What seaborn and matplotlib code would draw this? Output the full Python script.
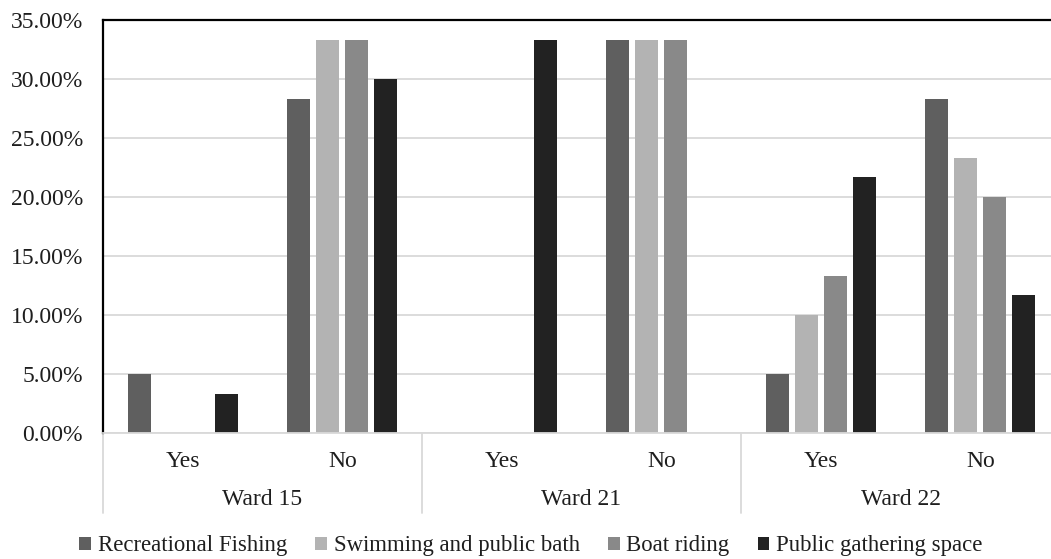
import matplotlib
matplotlib.use("Agg")
import matplotlib.pyplot as plt
import matplotlib.transforms as mtransforms
from matplotlib.patches import Patch
import seaborn as sns
import pandas as pd

# Survey shares (% of respondents) per ward and answer
wards = ["Ward 15", "Ward 21", "Ward 22"]
answers = ["Yes", "No"]
activities = ["Recreational Fishing", "Swimming and public bath",
              "Boat riding", "Public gathering space"]
recreational_fishing = [5.00, 28.33, 0.00, 33.33, 5.00, 28.33]
swimming_public_bath = [0.00, 33.33, 0.00, 33.33, 10.00, 23.33]
boat_riding = [0.00, 33.33, 0.00, 33.33, 13.33, 20.00]
public_gathering = [3.33, 30.00, 33.33, 0.00, 21.67, 11.67]
y_ticks = [0, 5, 10, 15, 20, 25, 30, 35]

palette = ["#5f5f5f", "#b3b3b3", "#898989", "#222222"]
FS = 17

series = [recreational_fishing, swimming_public_bath, boat_riding, public_gathering]
keys = [f"{w}|{a}" for w in wards for a in answers]
rows = []
for act, vals in zip(activities, series):
    for k, v in zip(keys, vals):
        rows.append({"group": k, "activity": act, "share": v})
df = pd.DataFrame(rows)

sns.set_theme(style="white")
plt.rcParams["font.family"] = ["Liberation Serif", "DejaVu Serif"]

fig = plt.figure(figsize=(10.51, 5.59), dpi=100)
ax = fig.add_axes([0.098, 0.2254, 0.9106, 0.7388])

sns.barplot(data=df, x="group", y="share", hue="activity", order=keys,
            hue_order=activities, palette=palette, width=0.725, gap=0.21,
            saturation=1, linewidth=0, ax=ax, legend=False)

ax.set_xlim(-0.5, len(keys) - 0.5)
ax.set_ylim(0, 35)
ax.set_yticks(y_ticks)
ax.set_yticklabels([f"{t:.2f}%" for t in y_ticks], fontsize=FS, color="#1e1e1e")
ax.tick_params(axis="y", length=0, pad=14.4)
ax.set_xticks([])
ax.set_xlabel("")
ax.set_ylabel("")
ax.set_axisbelow(True)
ax.yaxis.grid(True, color="#d9d9d9", linewidth=1.3)

for side in ["top", "left"]:
    ax.spines[side].set_color("black")
    ax.spines[side].set_linewidth(1.6)
ax.spines["bottom"].set_color("#d9d9d9")
ax.spines["bottom"].set_linewidth(1.3)
ax.spines["right"].set_visible(False)

# Two-level category axis: answers, then wards, with separators
trans = mtransforms.blended_transform_factory(ax.transData, ax.transAxes)
for i, k in enumerate(keys):
    ax.text(i, -0.068, k.split("|")[1], transform=trans, ha="center",
            va="center", fontsize=FS, color="#1e1e1e")
for j, w in enumerate(wards):
    ax.text(2 * j + 0.5, -0.16, w, transform=trans, ha="center",
            va="center", fontsize=FS, color="#1e1e1e")
for j in range(len(wards)):
    ax.plot([2 * j - 0.5, 2 * j - 0.5], [0, -0.194], transform=trans,
            color="#d9d9d9", linewidth=1.3, clip_on=False)

handles = [Patch(facecolor=c, edgecolor="none", label=a)
           for c, a in zip(palette, activities)]
fig.legend(handles=handles, loc="center", bbox_to_anchor=(531 / 1051, 1 - 546 / 559),
           ncol=4, frameon=False, fontsize=16.4, handlelength=0.5,
           handleheight=0.5, handletextpad=0.3, columnspacing=1.25,
           labelcolor="#1e1e1e", borderaxespad=0, borderpad=0)

fig.savefig("out.png", dpi=100)
